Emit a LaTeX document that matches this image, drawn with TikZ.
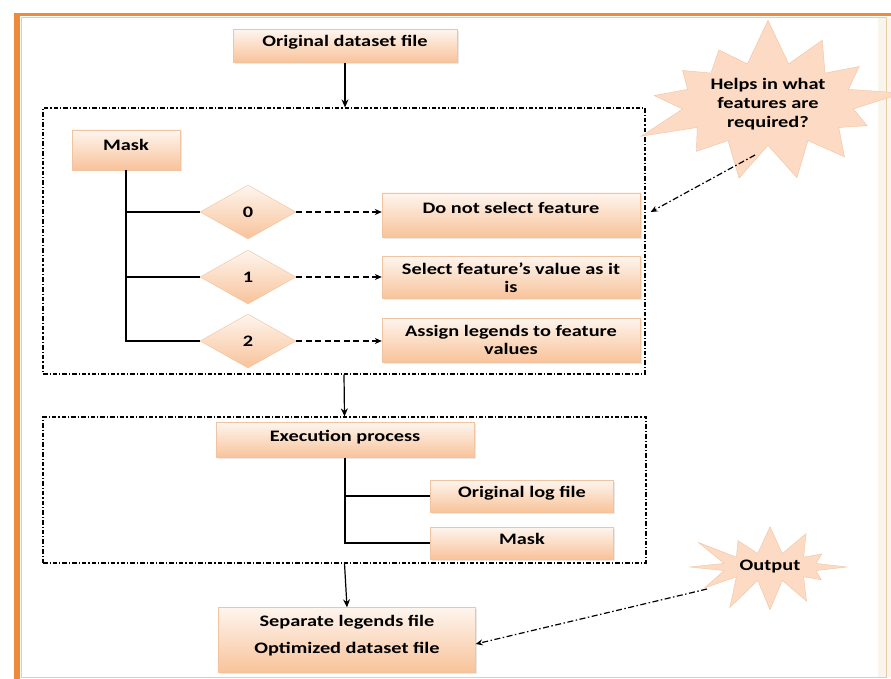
\documentclass[tikz,border=0pt]{standalone}
\usepackage{fontspec}
\setmainfont{Carlito}[FakeStretch=1.27]
\usetikzlibrary{shapes,arrows.meta,positioning,fit,shadows}

\definecolor{peachtop}{HTML}{FEF5EE}
\definecolor{peachbot}{HTML}{F8C39A}
\definecolor{peachline}{HTML}{F0C4A0}
\definecolor{starfill}{HTML}{FCDAC3}
\definecolor{frameorange}{HTML}{EE8A3A}
\definecolor{frametan}{HTML}{E6CFA2}

\tikzset{
  box/.style={draw=peachline, top color=peachtop, bottom color=peachbot,
    font=\fontsize{16}{18}\selectfont\bfseries, inner sep=2pt,
    drop shadow={opacity=0.18, shadow xshift=1.5pt, shadow yshift=-1.5pt}},
  onebox/.style={box, text height=11pt, text depth=9pt},
  choice/.style={diamond, draw=peachline, top color=peachtop, bottom color=peachbot,
    minimum width=96pt, minimum height=54pt, inner sep=0pt,
    font=\fontsize{16}{18}\selectfont\bfseries},
  group/.style={draw, dash pattern=on 4.5pt off 2pt on 1.2pt off 2pt, line width=1.2pt, inner sep=0pt},
  burst/.style={starburst, fill=starfill, draw=peachline, align=center,
    font=\fontsize{16}{19}\selectfont\bfseries},
  link/.style={-{Stealth[length=8pt,width=7pt]}, line width=1.2pt},
  pick/.style={-{Stealth[length=7pt,width=6pt]}, dash pattern=on 6pt off 3.5pt, line width=1.2pt},
  note/.style={-{Stealth[length=7pt,width=6pt]}, dash pattern=on 6pt off 2.5pt on 1.5pt off 2.5pt, line width=1.2pt}
}

\begin{document}
\begin{tikzpicture}[x=1pt, y=-1pt]
    \useasboundingbox (0,0) rectangle (891,679);
    \fill[white] (0,0) rectangle (891,679);
    % frame
    \fill[frametan!20] (878,18) rectangle (891,677);
    \draw[frametan, line width=1pt] (21,18) rectangle (886,677);
    \draw[frameorange, line width=3.5pt] (891,14.5) -- (16.5,14.5);
    \draw[frameorange, line width=6pt] (16.5,13) -- (16.5,679);

    % first stage
    \node[onebox, minimum width=224pt, minimum height=33pt] (orig) at (345,46) {Original dataset file};
    \node[group, fit={(43,108) (645,374)}] (grp1) {};
    \node[onebox, minimum width=108pt, minimum height=40pt] (mask1) at (126,150) {Mask};

    \node[choice] (d0) at (248,212) {0};
    \node[choice] (d1) at (248,277) {1};
    \node[choice] (d2) at (248,341) {2};

    \node[box, minimum width=258pt, minimum height=44pt, text height=11pt, text depth=15pt] (sel0) at (511,215) {Do not select feature};
    \node[box, minimum width=258pt, minimum height=42pt, align=center] (sel1) at (511,277.5) {Select feature’s value as it\\is};
    \node[box, minimum width=258pt, minimum height=44pt, align=center] (sel2) at (511,340) {Assign legends to feature\\values};

    % second stage
    \node[group, fit={(43,417) (646,563)}] (grp2) {};
    \node[onebox, minimum width=258pt, minimum height=35pt] (exec) at (345,440) {Execution process};
    \node[onebox, minimum width=183pt, minimum height=32pt] (log) at (522,496) {Original log file};
    \node[onebox, minimum width=183pt, minimum height=32pt] (mask2) at (522,543) {Mask};

    \node[box, minimum width=257pt, minimum height=65pt, align=center, text depth=12pt] (final) at (347,640) {Separate legends file\\[9pt]Optimized dataset file};

    % remarks
    \node[burst, minimum width=215pt, minimum height=95pt, starburst points=13,
          starburst point height=50pt, random starburst=27] (help) at (768,104) {Helps in what\\features are\\required?};
    \node[burst, minimum width=135pt, minimum height=62pt, starburst points=12,
          starburst point height=40pt, random starburst=41] (out) at (770,567) {Output};

    % connectors
    \draw[link] (orig) -- (orig.south |- grp1.north);
    \draw[line width=1.2pt] (mask1.south) -- (mask1.south |- d2.west) -- (d2.west);
    \draw[line width=1.2pt] (mask1.south |- d0.west) -- (d0.west);
    \draw[line width=1.2pt] (mask1.south |- d1.west) -- (d1.west);
    \draw[pick] (d0.east) -- (sel0.west |- d0.east);
    \draw[pick] (d1.east) -- (sel1.west |- d1.east);
    \draw[pick] (d2.east) -- (sel2.west |- d2.east);

    \draw[link] (grp1.south) -- (grp2.north);
    \draw[line width=1.2pt] (exec.south) -- (exec.south |- mask2.west) -- (mask2.west);
    \draw[line width=1.2pt] (exec.south |- log.west) -- (log.west);
    \draw[link] (grp2.south) -- (final.north);

    \draw[note] ([shift={(-13pt,-51pt)}]help.center) -- ([xshift=5pt]grp1.east |- d0.east);
    \draw[note] ([shift={(-63pt,-22pt)}]out.center) -- ([yshift=-4pt]final.east);
\end{tikzpicture}
\end{document}
